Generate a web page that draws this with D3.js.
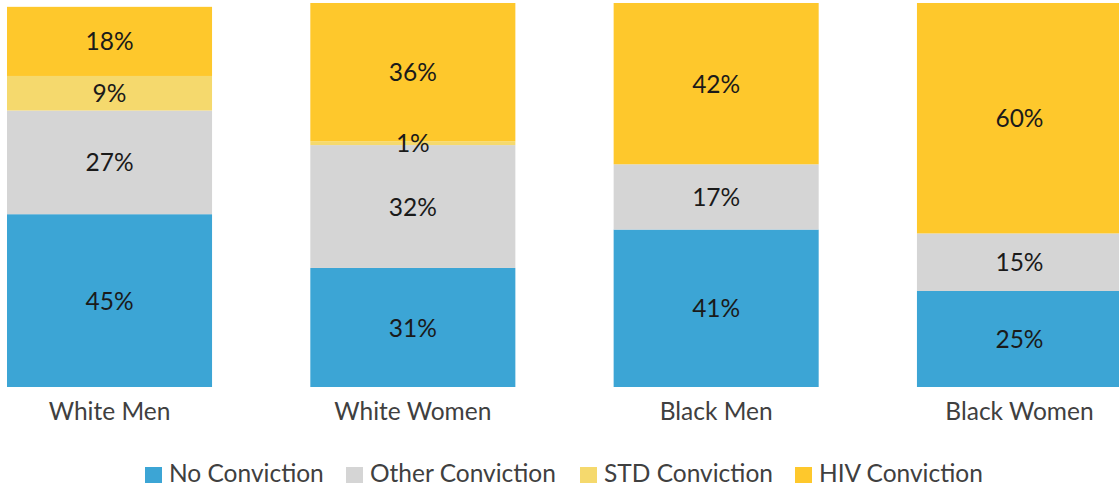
<!DOCTYPE html>
<html><head><meta charset="utf-8">
<script src="https://cdn.jsdelivr.net/npm/d3@7"></script>
<style>
html,body{margin:0;padding:0;background:#fff;overflow:hidden;}
text{font-family:Lato,"Open Sans",sans-serif;}
</style></head>
<body><svg id="c" width="1119" height="486"></svg>
<script>
const categories = ["White Men","White Women","Black Men","Black Women"];
const seriesNames = ["No Conviction","Other Conviction","STD Conviction","HIV Conviction"];
const noConviction = [45,31,41,25];
const otherConviction = [27,32,17,15];
const stdConviction = [9,1,0,0];
const hivConviction = [18,36,42,60];
const colors = ["#3ca5d5","#d5d5d5","#f5d96d","#fec82c"];

const rows = categories.map((c,i)=>({cat:c,
  "No Conviction":noConviction[i],"Other Conviction":otherConviction[i],
  "STD Conviction":stdConviction[i],"HIV Conviction":hivConviction[i]}));
const stack = d3.stack().keys(seriesNames)(rows);

const svg = d3.select("#c");
const x = d3.scaleBand().domain(categories).range([7,1122]).paddingInner(0.324).paddingOuter(0);
const y = d3.scaleLinear().domain([0,100]).range([387,3]);
const color = d3.scaleOrdinal().domain(seriesNames).range(colors);

const g = svg.append("g");
stack.forEach(s=>{
  g.selectAll(null).data(s).enter().append("rect")
    .attr("x",d=>x(d.data.cat)).attr("width",x.bandwidth())
    .attr("y",d=>y(d[1])).attr("height",d=>y(d[0])-y(d[1]))
    .attr("fill",color(s.key));
});
stack.forEach(s=>{
  g.selectAll(null).data(s.filter(d=>d[1]-d[0]>0)).enter().append("text")
    .attr("x",d=>x(d.data.cat)+x.bandwidth()/2)
    .attr("y",d=>(y(d[0])+y(d[1]))/2)
    .attr("dy","0.37em")
    .attr("text-anchor","middle")
    .attr("font-size",24.5).attr("fill","#1a1a1a")
    .text(d=>(d[1]-d[0])+"%");
});

// category axis
const xAxis = svg.append("g").attr("transform","translate(0,387)")
  .call(d3.axisBottom(x).tickSize(0).tickPadding(0));
xAxis.select(".domain").remove();
xAxis.selectAll("text").attr("font-size",24.5).attr("fill","#404040")
  .attr("font-family","Lato").attr("dy",null).attr("y",33);

// legend
const legendX = [145,346,580,795];
const leg = svg.append("g");
seriesNames.forEach((n,i)=>{
  leg.append("rect").attr("x",legendX[i]).attr("y",467).attr("width",17).attr("height",16).attr("fill",colors[i]);
  leg.append("text").attr("x",legendX[i]+24).attr("y",482).attr("font-size",24.5).attr("fill","#404040").text(n);
});
</script></body></html>
